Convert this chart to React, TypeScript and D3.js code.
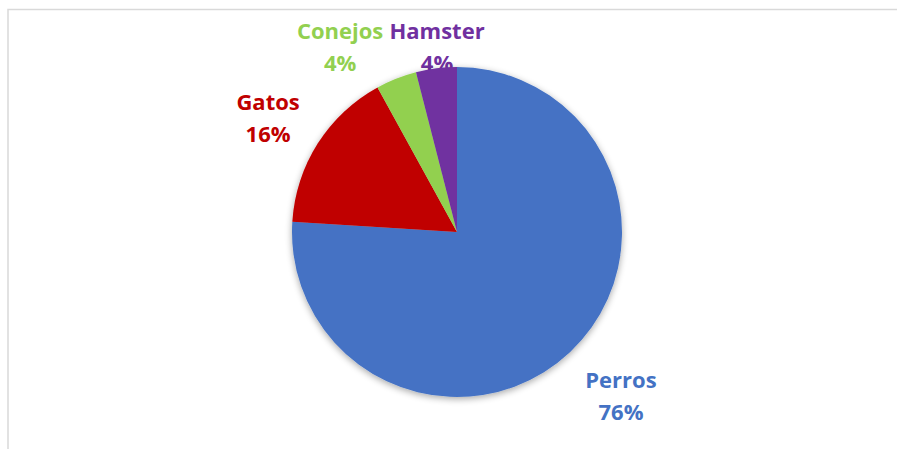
import React from "react";
import * as d3 from "d3";

const categories = ["Perros", "Gatos", "Conejos", "Hamster"];
const values = [76, 16, 4, 4];
const colors = ["#4472C4", "#C00000", "#92D050", "#7030A0"];

const W = 897;
const H = 449;

export default function App() {
  const cx = 457;
  const cy = 232;
  const r = 165;

  const total = d3.sum(values);
  const pie = d3
    .pie<number>()
    .sort(null)
    .value((d) => d)
    .startAngle(0)
    .endAngle(2 * Math.PI);
  const arcs = pie(values);
  const arc = d3.arc<d3.PieArcDatum<number>>().innerRadius(0).outerRadius(r);

  // label placement (best-fit style): radius factor and angle offset per slice index
  const labelRadius = [1.384, 1.353, 1.352, 1.158];
  const labelAngleShift = [-2.7, -0.2, -10.0, 1.2]; // degrees
  const fontSize = 22;

  const labels = arcs.map((a, i) => {
    const mid = (a.startAngle + a.endAngle) / 2 + (labelAngleShift[i] * Math.PI) / 180;
    const rr = r * labelRadius[i];
    return {
      x: cx + rr * Math.sin(mid),
      y: cy - rr * Math.cos(mid),
      name: categories[i],
      pct: d3.format(".0%")(values[i] / total),
      color: colors[i],
    };
  });

  return (
    <svg
      width={W}
      height={H}
      style={{ position: "absolute", left: 0, top: 0, background: "#fff" }}
      fontFamily="'Open Sans', sans-serif"
    >
      <defs>
        <filter id="shadow" x="-20%" y="-20%" width="140%" height="140%">
          <feGaussianBlur in="SourceAlpha" stdDeviation="3.5" />
          <feOffset dx="0" dy="2" result="b" />
          <feComponentTransfer>
            <feFuncA type="linear" slope="0.35" />
          </feComponentTransfer>
          <feMerge>
            <feMergeNode />
            <feMergeNode in="SourceGraphic" />
          </feMerge>
        </filter>
      </defs>
      <rect x={8} y={9.5} width={W + 20} height={H + 20} fill="#fff" stroke="#d9d9d9" strokeWidth={1.5} />
      <g>
        {labels.map((l, i) => (
          <text
            key={i}
            x={l.x}
            y={l.y}
            fill={l.color}
            fontWeight={700}
            fontSize={fontSize}
            textAnchor="middle"
          >
            <tspan x={l.x} dy={-3}>{l.name}</tspan>
            <tspan x={l.x} dy={32}>{l.pct}</tspan>
          </text>
        ))}
      </g>
      <g transform={`translate(${cx},${cy})`} filter="url(#shadow)">
        {arcs.map((a, i) => (
          <path key={i} d={arc(a) || ""} fill={colors[i]} />
        ))}
      </g>
    </svg>
  );
}
